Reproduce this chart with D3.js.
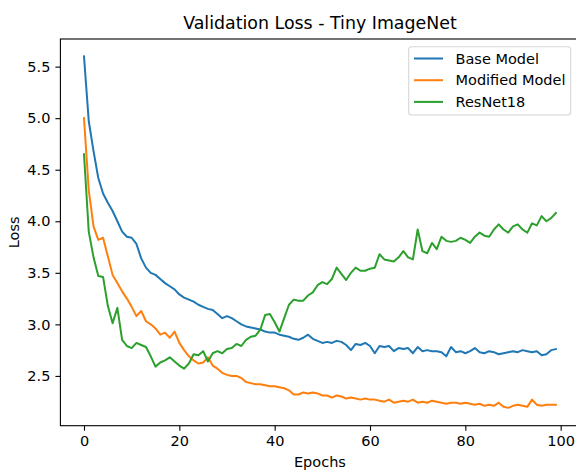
<!DOCTYPE html>
<html>
<head>
<meta charset="utf-8">
<script src="https://cdn.jsdelivr.net/npm/d3@7/dist/d3.min.js"></script>
<style>
  html, body { margin: 0; padding: 0; background: #fff; }
  svg { display: block; }
  text { font-family: "DejaVu Sans", sans-serif; fill: #000; }
</style>
</head>
<body>
<svg id="chart" width="576" height="470"></svg>
<script>
const title = "Validation Loss - Tiny ImageNet";
const xLabel = "Epochs";
const yLabel = "Loss";
const seriesNames = ["Base Model", "Modified Model", "ResNet18"];
const seriesColors = ["#1f77b4", "#ff7f0e", "#2ca02c"];
const xTicks = [0, 20, 40, 60, 80, 100];
const yTicks = [2.5, 3.0, 3.5, 4.0, 4.5, 5.0, 5.5];

const baseModel = [
  5.60, 4.97, 4.68, 4.42, 4.27, 4.18, 4.10, 4.00, 3.90, 3.85,
  3.84, 3.78, 3.64, 3.55, 3.50, 3.48, 3.44, 3.40, 3.37, 3.34,
  3.29, 3.26, 3.24, 3.22, 3.19, 3.17, 3.15, 3.14, 3.10, 3.06,
  3.08, 3.06, 3.03, 3.00, 2.98, 2.97, 2.96, 2.95, 2.93, 2.92,
  2.92, 2.90, 2.89, 2.88, 2.86, 2.85, 2.87, 2.90, 2.86, 2.84,
  2.82, 2.83, 2.82, 2.84, 2.83, 2.80, 2.75, 2.81, 2.80, 2.82,
  2.79, 2.72, 2.79, 2.78, 2.79, 2.74, 2.77, 2.76, 2.77, 2.72,
  2.78, 2.74, 2.75, 2.74, 2.74, 2.73, 2.69, 2.78, 2.73, 2.74,
  2.72, 2.74, 2.77, 2.73, 2.72, 2.74, 2.73, 2.71, 2.72, 2.73,
  2.74, 2.73, 2.75, 2.74, 2.73, 2.74, 2.70, 2.71, 2.75, 2.76
];
const modifiedModel = [
  5.00, 4.30, 3.95, 3.82, 3.84, 3.66, 3.48, 3.40, 3.32, 3.25,
  3.17, 3.08, 3.13, 3.03, 3.00, 2.96, 2.90, 2.92, 2.87, 2.93,
  2.82, 2.75, 2.69, 2.65, 2.62, 2.63, 2.68, 2.60, 2.57, 2.53,
  2.51, 2.50, 2.50, 2.48, 2.44, 2.43, 2.42, 2.42, 2.41, 2.40,
  2.40, 2.39, 2.38, 2.36, 2.32, 2.32, 2.34, 2.33, 2.34, 2.33,
  2.31, 2.31, 2.29, 2.31, 2.30, 2.28, 2.29, 2.28, 2.27, 2.28,
  2.27, 2.27, 2.26, 2.25, 2.27, 2.24, 2.25, 2.26, 2.25, 2.27,
  2.24, 2.25, 2.24, 2.26, 2.25, 2.24, 2.23, 2.24, 2.24, 2.23,
  2.24, 2.23, 2.22, 2.23, 2.21, 2.22, 2.21, 2.24, 2.20, 2.19,
  2.21, 2.22, 2.21, 2.20, 2.27, 2.22, 2.21, 2.22, 2.22, 2.22
];
const resNet18 = [
  4.65, 3.90, 3.65, 3.47, 3.46, 3.18, 3.01, 3.16, 2.85, 2.79,
  2.77, 2.82, 2.80, 2.78, 2.69, 2.59, 2.63, 2.65, 2.68, 2.64,
  2.60, 2.57, 2.62, 2.71, 2.70, 2.74, 2.64, 2.72, 2.74, 2.72,
  2.76, 2.77, 2.81, 2.79, 2.85, 2.88, 2.89, 2.95, 3.09, 3.10,
  3.02, 2.93, 3.06, 3.19, 3.24, 3.23, 3.23, 3.28, 3.31, 3.38,
  3.41, 3.39, 3.44, 3.55, 3.49, 3.43, 3.50, 3.55, 3.52, 3.52,
  3.54, 3.55, 3.68, 3.63, 3.62, 3.61, 3.65, 3.71, 3.65, 3.63,
  3.92, 3.71, 3.69, 3.79, 3.73, 3.85, 3.81, 3.80, 3.81, 3.84,
  3.82, 3.79, 3.85, 3.89, 3.86, 3.85, 3.92, 3.97, 3.92, 3.89,
  3.95, 3.97, 3.92, 3.89, 3.98, 3.96, 4.05, 4.00, 4.03, 4.08
];
const allSeries = [baseModel, modifiedModel, resNet18];

const svg = d3.select("#chart");
const L = 60.4, R = 579.5, T = 39, B = 425.7;

const x = d3.scaleLinear().domain([-4.95, 103.95]).range([L, R]);
const y = d3.scaleLinear().domain([2.017, 5.768]).range([B, T]);

// lines
const line = d3.line().x((d, i) => x(i)).y(d => y(d));
const plot = svg.append("g");
allSeries.forEach((s, k) => {
  plot.append("path")
    .datum(s)
    .attr("d", line)
    .attr("fill", "none")
    .attr("stroke", seriesColors[k])
    .attr("stroke-width", 2.0)
    .attr("stroke-linejoin", "round")
    .attr("stroke-linecap", "square");
});

// axes
const xAxis = d3.axisBottom(x).tickValues(xTicks).tickSize(5).tickPadding(5).tickFormat(d3.format("d"));
const yAxis = d3.axisLeft(y).tickValues(yTicks).tickSize(5).tickPadding(5).tickFormat(d3.format(".1f"));

const gx = svg.append("g").attr("transform", `translate(0,${B})`).call(xAxis);
const gy = svg.append("g").attr("transform", `translate(${L},0)`).call(yAxis);
[gx, gy].forEach(g => {
  g.select(".domain").remove();
  g.selectAll(".tick line").attr("stroke", "#000").attr("stroke-width", 1.1);
  g.selectAll(".tick text").attr("font-size", "14.5px").attr("font-family", "DejaVu Sans").attr("fill", "#000");
});

// spines
svg.append("rect")
  .attr("x", L).attr("y", T).attr("width", R - L).attr("height", B - T)
  .attr("fill", "none").attr("stroke", "#000").attr("stroke-width", 1.1);

// title & labels
svg.append("text").attr("x", (L + R) / 2).attr("y", 29)
  .attr("text-anchor", "middle").attr("font-size", "17.4px").text(title);
svg.append("text").attr("x", (L + R) / 2).attr("y", 467)
  .attr("text-anchor", "middle").attr("font-size", "14.5px").text(xLabel);
svg.append("text").attr("transform", `translate(18.5,${(T + B) / 2}) rotate(-90)`)
  .attr("text-anchor", "middle").attr("font-size", "14.5px").text(yLabel);

// legend
const lg = svg.append("g");
lg.append("rect")
  .attr("x", 408.7).attr("y", 46.7).attr("width", 162).attr("height", 68.3)
  .attr("rx", 3).attr("fill", "#fff").attr("fill-opacity", 0.8)
  .attr("stroke", "#d6d6d6").attr("stroke-width", 1.1);
seriesNames.forEach((n, k) => {
  const yy = 58.5 + k * 21.7;
  lg.append("line").attr("x1", 414).attr("x2", 443).attr("y1", yy).attr("y2", yy)
    .attr("stroke", seriesColors[k]).attr("stroke-width", 2.0);
  lg.append("text").attr("x", 455.5).attr("y", yy).attr("dy", "0.36em")
    .attr("font-size", "14.5px").text(n);
});
</script>
</body>
</html>
